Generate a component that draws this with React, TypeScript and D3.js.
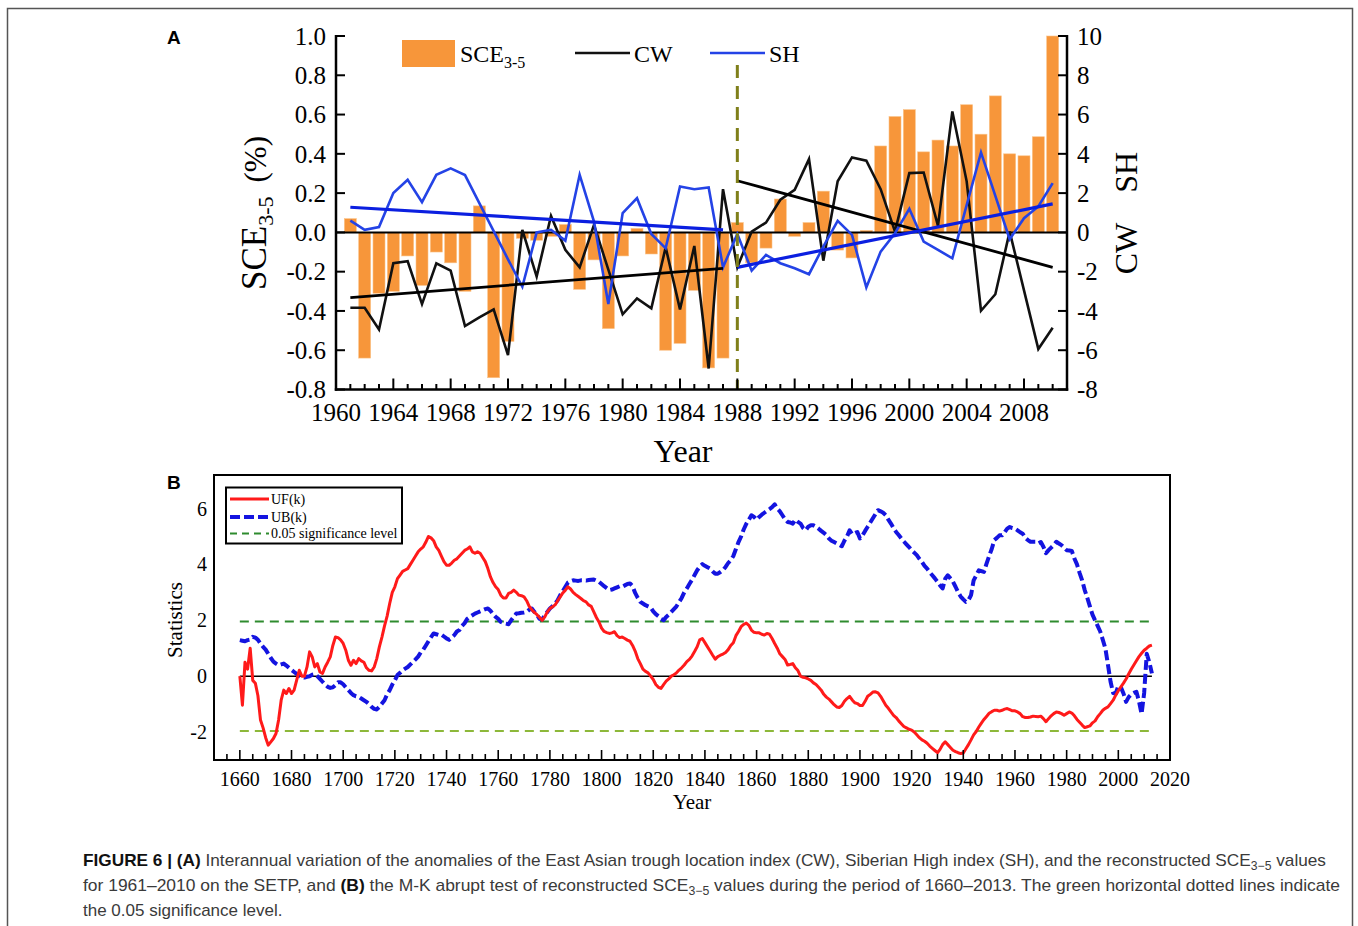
import React from 'react';
import * as d3 from 'd3';

// ---------- Panel A: 1961–2010 ----------
const sceYears = d3.range(1961, 2011);

// reconstructed SCE3-5 anomalies (%)
const sceValues = [
  0.07, -0.64, -0.31, -0.3, -0.12, -0.27, -0.1, -0.155, -0.3, 0.135,
  -0.74, -0.555, -0.03, -0.04, -0.02, 0.04, -0.29, -0.14, -0.49, -0.12,
  0.02, -0.11, -0.6, -0.565, -0.295, -0.69, -0.64, 0.05, -0.155, -0.08,
  0.17, -0.02, 0.05, 0.21, -0.09, -0.13, 0.01, 0.44, 0.59, 0.625,
  0.41, 0.47, 0.44, 0.65, 0.5, 0.695, 0.4, 0.39, 0.487, 1.0,
];

// East Asian trough location index
const cwValues = [
  -3.84, -3.84, -4.94, -1.57, -1.47, -3.65, -1.57, -1.95, -4.77, -4.33,
  -3.92, -6.25, 0.13, -2.25, 0.84, -0.89, -1.78, 0.38, -1.9, -4.17,
  -3.36, -3.87, -0.76, -3.92, -0.69, -6.93, 2.2, -1.78, 0.04, 0.5,
  1.66, 2.17, 3.73, -1.44, 2.6, 3.82, 3.65, 2.2, 0.04, 3.02,
  3.05, 0.33, 6.16, 2.6, -3.99, -3.15, 0.04, -2.95, -5.94, -4.86,
];

// Siberian High index
const shValues = [
  0.6, 0.13, 0.27, 2.0, 2.68, 1.54, 2.93, 3.26, 2.92, 1.49,
  0.06, -1.37, -2.77, 0.0, 0.13, -0.42, 2.93, 0.55, -3.65, 0.98,
  1.74, -0.08, -0.81, 2.34, 2.2, 2.29, -1.78, -0.08, -1.95, -1.15,
  -1.57, -1.83, -2.13, -0.72, 0.59, -0.13, -2.8, -0.98, -0.04, 1.2,
  -0.47, -0.89, -1.32, 1.39, 4.07, 1.86, -0.35, 0.72, 1.32, 2.51,
];

// linear trends before and after the 1988 shift: [year, value]
const cwTrendBefore: [number, number][] = [[1961, -3.32], [1987, -1.83]];
const cwTrendAfter: [number, number][] = [[1988, 2.63], [2010, -1.78]];
const shTrendBefore: [number, number][] = [[1961, 1.28], [1987, 0.13]];
const shTrendAfter: [number, number][] = [[1988, -1.78], [2010, 1.45]];
const shiftYear = 1988;

const sceTicks = [-0.8, -0.6, -0.4, -0.2, 0.0, 0.2, 0.4, 0.6, 0.8, 1.0];
const indexTicks = [-8, -6, -4, -2, 0, 2, 4, 6, 8, 10];
const yearTicksA = [1960, 1964, 1968, 1972, 1976, 1980, 1984, 1988, 1992, 1996, 2000, 2004, 2008];
const minorYearsA = d3.range(1960, 2011);

// ---------- Panel B: Mann-Kendall statistics, 1660–2013 ----------
const mkYears = d3.range(1660, 2014);

const ufValues = [
  0.0, -1.04, 0.5, 0.25, 1.0, -0.15, -0.25, -0.7, -1.57, -1.85,
  -2.2, -2.47, -2.35, -2.23, -2.05, -1.57, -0.86, -0.5, -0.62, -0.44,
  -0.62, -0.5, -0.14, 0.21, 0.0, 0.0, 0.33, 0.87, 0.69, 0.33,
  0.45, 0.15, 0.1, 0.33, 0.5, 0.69, 1.1, 1.4, 1.38, 1.3,
  1.17, 0.93, 0.57, 0.39, 0.57, 0.45, 0.63, 0.55, 0.5, 0.3,
  0.21, 0.19, 0.33, 0.63, 1.05, 1.4, 1.8, 2.15, 2.6, 3.0,
  3.2, 3.49, 3.62, 3.75, 3.8, 3.85, 4.0, 4.15, 4.3, 4.45,
  4.55, 4.63, 4.8, 5.0, 4.95, 4.85, 4.63, 4.5, 4.3, 4.1,
  3.97, 3.97, 4.05, 4.15, 4.2, 4.3, 4.4, 4.5, 4.55, 4.63,
  4.45, 4.4, 4.45, 4.4, 4.25, 4.1, 3.85, 3.55, 3.35, 3.2,
  3.1, 2.9, 2.8, 2.8, 2.96, 3.0, 3.08, 3.0, 2.9, 2.88,
  2.84, 2.7, 2.5, 2.38, 2.28, 2.2, 2.1, 2.0, 2.12, 2.3,
  2.42, 2.48, 2.55, 2.7, 2.84, 2.98, 3.08, 3.2, 3.12, 3.0,
  2.92, 2.85, 2.78, 2.7, 2.66, 2.55, 2.5, 2.3, 2.1, 1.94,
  1.72, 1.6, 1.56, 1.53, 1.55, 1.59, 1.45, 1.38, 1.4, 1.35,
  1.29, 1.25, 1.1, 0.9, 0.63, 0.45, 0.25, 0.17, 0.12, 0.0,
  -0.12, -0.3, -0.4, -0.44, -0.3, -0.18, -0.1, 0.0, 0.05, 0.12,
  0.22, 0.3, 0.4, 0.52, 0.6, 0.72, 0.88, 1.05, 1.3, 1.35,
  1.2, 1.05, 0.9, 0.75, 0.61, 0.7, 0.75, 0.79, 0.85, 0.95,
  1.1, 1.2, 1.45, 1.6, 1.77, 1.85, 1.9, 1.82, 1.65, 1.57,
  1.55, 1.55, 1.5, 1.47, 1.53, 1.5, 1.35, 1.17, 1.0, 0.8,
  0.7, 0.6, 0.4, 0.42, 0.45, 0.3, 0.2, 0.0, -0.04, -0.06,
  -0.1, -0.15, -0.24, -0.3, -0.4, -0.5, -0.65, -0.75, -0.82, -0.92,
  -1.02, -1.1, -1.12, -1.05, -0.9, -0.8, -0.72, -0.85, -0.95, -0.98,
  -1.05, -1.05, -0.9, -0.72, -0.65, -0.57, -0.56, -0.6, -0.72, -0.88,
  -1.04, -1.15, -1.28, -1.4, -1.48, -1.6, -1.7, -1.8, -1.85, -1.9,
  -1.93, -2.0, -2.1, -2.2, -2.28, -2.33, -2.4, -2.5, -2.58, -2.66,
  -2.74, -2.62, -2.45, -2.35, -2.45, -2.55, -2.65, -2.7, -2.74, -2.77,
  -2.75, -2.6, -2.45, -2.28, -2.1, -1.98, -1.82, -1.68, -1.55, -1.44,
  -1.33, -1.27, -1.22, -1.22, -1.25, -1.22, -1.18, -1.16, -1.2, -1.24,
  -1.24, -1.28, -1.34, -1.45, -1.48, -1.48, -1.46, -1.43, -1.44, -1.45,
  -1.43, -1.52, -1.63, -1.52, -1.42, -1.34, -1.28, -1.3, -1.34, -1.4,
  -1.34, -1.28, -1.32, -1.42, -1.55, -1.65, -1.75, -1.84, -1.81, -1.78,
  -1.67, -1.6, -1.45, -1.34, -1.22, -1.15, -1.1, -0.98, -0.86, -0.68,
  -0.52, -0.38, -0.25, -0.1, 0.08, 0.25, 0.4, 0.55, 0.7, 0.82,
  0.93, 1.0, 1.08, 1.11,
];

const ubValues = [
  1.29, 1.27, 1.25, 1.29, 1.31, 1.41, 1.38, 1.3, 1.17, 1.05,
  0.95, 0.8, 0.65, 0.52, 0.45, 0.39, 0.42, 0.45, 0.38, 0.3,
  0.22, 0.15, 0.08, 0.0, -0.03, -0.05, -0.02, 0.0, 0.05, 0.07,
  0.0, -0.1, -0.2, -0.3, -0.38, -0.42, -0.4, -0.32, -0.22, -0.22,
  -0.29, -0.4, -0.5, -0.6, -0.68, -0.72, -0.74, -0.8, -0.86, -0.92,
  -1.0, -1.1, -1.17, -1.19, -1.1, -0.98, -0.86, -0.65, -0.5, -0.3,
  -0.15, 0.04, 0.12, 0.21, 0.27, 0.33, 0.42, 0.51, 0.6, 0.7,
  0.85, 0.95, 1.1, 1.25, 1.4, 1.53, 1.5, 1.47, 1.49, 1.42,
  1.35, 1.3, 1.38, 1.47, 1.6, 1.65, 1.8, 1.9, 2.05, 2.12,
  2.18, 2.24, 2.28, 2.32, 2.36, 2.4, 2.42, 2.34, 2.22, 2.12,
  2.05, 1.94, 1.9, 1.88, 1.86, 2.0, 2.12, 2.24, 2.25, 2.27,
  2.28, 2.3, 2.38, 2.42, 2.3, 2.2, 2.05, 2.03, 2.18, 2.3,
  2.42, 2.5, 2.6, 2.72, 2.9, 3.05, 3.2, 3.35, 3.4, 3.43,
  3.42, 3.41, 3.43, 3.43, 3.42, 3.44, 3.45, 3.46, 3.42, 3.38,
  3.3, 3.22, 3.15, 3.08, 3.1, 3.14, 3.18, 3.22, 3.2, 3.25,
  3.3, 3.32, 3.22, 2.98, 2.8, 2.66, 2.6, 2.54, 2.5, 2.46,
  2.32, 2.22, 2.15, 2.05, 2.0, 2.12, 2.2, 2.3, 2.4, 2.5,
  2.65, 2.8, 3.0, 3.14, 3.3, 3.45, 3.62, 3.79, 3.92, 4.01,
  3.95, 3.9, 3.85, 3.75, 3.67, 3.67, 3.73, 3.8, 3.91, 4.05,
  4.15, 4.3, 4.55, 4.8, 5.0, 5.25, 5.45, 5.6, 5.76, 5.7,
  5.6, 5.7, 5.78, 5.85, 5.92, 5.98, 6.05, 6.15, 6.0, 5.9,
  5.76, 5.62, 5.52, 5.5, 5.46, 5.6, 5.52, 5.46, 5.3, 5.22,
  5.35, 5.4, 5.4, 5.35, 5.28, 5.2, 5.13, 5.05, 4.93, 4.85,
  4.8, 4.75, 4.7, 4.65, 4.85, 5.0, 5.22, 5.08, 5.12, 5.16,
  4.93, 5.04, 5.2, 5.35, 5.5, 5.65, 5.8, 5.94, 5.9, 5.85,
  5.76, 5.6, 5.46, 5.3, 5.16, 5.05, 4.93, 4.82, 4.72, 4.62,
  4.51, 4.42, 4.33, 4.2, 4.09, 3.95, 3.85, 3.72, 3.61, 3.5,
  3.38, 3.25, 3.14, 3.49, 3.61, 3.5, 3.38, 3.2, 3.0, 2.85,
  2.75, 2.66, 2.72, 2.9, 3.43, 3.6, 3.79, 3.76, 3.73, 4.03,
  4.3, 4.55, 4.87, 4.95, 5.04, 5.04, 5.15, 5.28, 5.34, 5.3,
  5.28, 5.22, 5.15, 5.1, 4.95, 4.87, 4.81, 4.81, 4.81, 4.75,
  4.8, 4.63, 4.4, 4.51, 4.6, 4.69, 4.81, 4.75, 4.69, 4.6,
  4.51, 4.5, 4.48, 4.21, 4.0, 3.7, 3.43, 3.08, 2.8, 2.5,
  2.2, 2.0, 1.8, 1.6, 1.3, 0.99, 0.4, -0.2, -0.6, -0.62,
  -0.35, -0.4, -0.62, -0.92, -0.75, -0.65, -0.6, -0.56, -0.9, -1.35,
  -0.6, 0.8, 0.5, 0.1,
];

const significanceLevel = 1.96;
const statTicks = [-2, 0, 2, 4, 6];
const yearTicksB = d3.range(1660, 2021, 20);
const minorYearsB = d3.range(1650, 2021, 5);

// ---------- styling ----------
const SERIF = '"Liberation Serif", "Times New Roman", serif';
const SANS = '"Liberation Sans", Arial, sans-serif';
const CAPTION_FONT = '"Liberation Sans Narrow", "Liberation Sans", Arial, sans-serif';
const ORANGE = '#F7963A';
const CW_COLOR = '#111111';
const SH_COLOR = '#2443E6';
const SH_TREND = '#0B1FE0';
const UF_COLOR = '#FF1A1A';
const UB_COLOR = '#1414E0';
const SIG_UP = '#2E8B2E';
const SIG_DOWN = '#8DB83A';

export default function App() {
  // Panel A scales
  const xA = d3.scaleLinear().domain([1960, 2011]).range([336, 1067]);
  const yA = d3.scaleLinear().domain([-0.8, 1.0]).range([389.5, 36]);
  const yIdx = d3.scaleLinear().domain([-8, 10]).range([389.5, 36]);
  const barW = 12;

  const idxLine = d3
    .line<[number, number]>()
    .x((d) => xA(d[0]))
    .y((d) => yIdx(d[1]));

  const cwPts = sceYears.map((yr, i) => [yr, cwValues[i]] as [number, number]);
  const shPts = sceYears.map((yr, i) => [yr, shValues[i]] as [number, number]);

  // Panel B scales
  const xB = d3.scaleLinear().domain([1650, 2020]).range([214, 1170]);
  const yB = d3.scaleLinear().domain([-3, 7.2]).range([760, 475]);
  const statLine = d3
    .line<[number, number]>()
    .x((d) => xB(d[0]))
    .y((d) => yB(d[1]));
  const ufPts = mkYears.map((yr, i) => [yr, ufValues[i]] as [number, number]);
  const ubPts = mkYears.map((yr, i) => [yr, ubValues[i]] as [number, number]);
  const mkStart = mkYears[0];
  const mkEnd = mkYears[mkYears.length - 1];

  const aLeft = xA(1960);
  const aRight = xA(2011);
  const aTop = yA(1.0);
  const aBottom = yA(-0.8);

  return (
    <svg
      width={1358}
      height={926}
      viewBox="0 0 1358 926"
      style={{ position: 'absolute', left: 0, top: 0, display: 'block', background: '#fff' }}
    >
      <rect x={0} y={0} width={1358} height={926} fill="#fff" />
      {/* outer frame */}
      <rect x={7.5} y={8.5} width={1345} height={930} fill="none" stroke="#555" strokeWidth={1.5} />

      {/* ================= Panel A ================= */}
      <text x={167} y={44} fontFamily={SANS} fontWeight="bold" fontSize={19} fill="#000">A</text>

      {/* bars */}
      <g>
        {sceYears.map((yr, i) => {
          const v = sceValues[i];
          const y0 = yA(0);
          const y1 = yA(v);
          return (
            <rect
              key={yr}
              x={xA(yr) - barW / 2}
              y={Math.min(y0, y1)}
              width={barW}
              height={Math.abs(y1 - y0)}
              fill={ORANGE}
              stroke="#FBC48A"
              strokeWidth={0.6}
            />
          );
        })}
      </g>

      {/* zero line */}
      <line x1={aLeft} x2={aRight} y1={yA(0)} y2={yA(0)} stroke="#000" strokeWidth={2} />

      {/* index series */}
      <path d={idxLine(cwPts) || ''} fill="none" stroke={CW_COLOR} strokeWidth={2.6} strokeLinejoin="miter" />
      <path d={idxLine(shPts) || ''} fill="none" stroke={SH_COLOR} strokeWidth={2.6} strokeLinejoin="miter" />

      {/* trend lines */}
      <path d={idxLine(cwTrendBefore) || ''} stroke="#000" strokeWidth={2.8} fill="none" />
      <path d={idxLine(cwTrendAfter) || ''} stroke="#000" strokeWidth={2.8} fill="none" />
      <path d={idxLine(shTrendBefore) || ''} stroke={SH_TREND} strokeWidth={3.2} fill="none" />
      <path d={idxLine(shTrendAfter) || ''} stroke={SH_TREND} strokeWidth={3.2} fill="none" />

      {/* abrupt-change marker */}
      <line
        x1={xA(shiftYear)}
        x2={xA(shiftYear)}
        y1={65}
        y2={aBottom}
        stroke="#7F7F1A"
        strokeWidth={3}
        strokeDasharray="13 8"
      />

      {/* axes */}
      <g stroke="#000" strokeWidth={2.5} fill="none">
        <line x1={aLeft} x2={aLeft} y1={aTop - 1} y2={aBottom + 1.2} />
        <line x1={aRight} x2={aRight} y1={aTop - 1} y2={aBottom + 1.2} />
        <line x1={aLeft - 1.2} x2={aRight + 1.2} y1={aBottom} y2={aBottom} />
      </g>
      <g stroke="#000" strokeWidth={2}>
        {sceTicks.map((t) => (
          <line key={'lt' + t} x1={aLeft} x2={aLeft + 9} y1={yA(t)} y2={yA(t)} />
        ))}
        {indexTicks.map((t) => (
          <line key={'rt' + t} x1={aRight} x2={aRight - 9} y1={yIdx(t)} y2={yIdx(t)} />
        ))}
        {minorYearsA.map((yr) => (
          <line
            key={'bt' + yr}
            x1={xA(yr)}
            x2={xA(yr)}
            y1={aBottom}
            y2={aBottom - (yearTicksA.includes(yr) ? 11 : 5.5)}
          />
        ))}
      </g>
      <g fontFamily={SERIF} fontSize={25} fill="#000">
        {sceTicks.map((t) => (
          <text key={'ll' + t} x={326} y={yA(t)} dy="0.35em" textAnchor="end">
            {t.toFixed(1)}
          </text>
        ))}
        {indexTicks.map((t) => (
          <text key={'rl' + t} x={1077} y={yIdx(t)} dy="0.35em" textAnchor="start">
            {String(t)}
          </text>
        ))}
        {yearTicksA.map((yr) => (
          <text key={'yl' + yr} x={xA(yr)} y={421} textAnchor="middle">
            {yr}
          </text>
        ))}
      </g>
      <text x={683} y={462} textAnchor="middle" fontFamily={SERIF} fontSize={32}>Year</text>

      {/* axis titles */}
      <text
        transform="translate(266,213) rotate(-90)"
        textAnchor="middle"
        fontFamily={SERIF}
        fontSize={35}
      >
        <tspan>SCE</tspan>
        <tspan fontSize={22} dy={7}>3-5</tspan>
        <tspan dy={-7} dx={14} fontSize={31}>(%)</tspan>
      </text>
      <text
        transform="translate(1137,213) rotate(-90)"
        textAnchor="middle"
        fontFamily={SERIF}
        fontSize={32}
      >
        <tspan>CW</tspan>
        <tspan dx={30}>SH</tspan>
      </text>

      {/* legend A */}
      <rect x={402} y={40} width={53} height={27} fill={ORANGE} />
      <text x={460} y={62} fontFamily={SERIF} fontSize={24}>
        <tspan>SCE</tspan>
        <tspan fontSize={16} dy={6}>3-5</tspan>
      </text>
      <line x1={575} x2={630} y1={53} y2={53} stroke={CW_COLOR} strokeWidth={2.6} />
      <text x={634} y={62} fontFamily={SERIF} fontSize={24}>CW</text>
      <line x1={710} x2={765} y1={53} y2={53} stroke={SH_COLOR} strokeWidth={2.6} />
      <text x={769} y={62} fontFamily={SERIF} fontSize={24}>SH</text>

      {/* ================= Panel B ================= */}
      <text x={167} y={489} fontFamily={SANS} fontWeight="bold" fontSize={19} fill="#000">B</text>

      {/* reference lines */}
      <line x1={xB(mkStart)} x2={xB(mkEnd)} y1={yB(0)} y2={yB(0)} stroke="#000" strokeWidth={1.6} />
      <line
        x1={xB(mkStart)}
        x2={xB(mkEnd)}
        y1={yB(significanceLevel)}
        y2={yB(significanceLevel)}
        stroke={SIG_UP}
        strokeWidth={2}
        strokeDasharray="9 6"
      />
      <line
        x1={xB(mkStart)}
        x2={xB(mkEnd)}
        y1={yB(-significanceLevel)}
        y2={yB(-significanceLevel)}
        stroke={SIG_DOWN}
        strokeWidth={2}
        strokeDasharray="9 6"
      />

      {/* UB and UF curves */}
      <path
        d={statLine(ubPts) || ''}
        fill="none"
        stroke={UB_COLOR}
        strokeWidth={4}
        strokeDasharray="10 4"
        strokeLinejoin="round"
      />
      <path d={statLine(ufPts) || ''} fill="none" stroke={UF_COLOR} strokeWidth={3} strokeLinejoin="round" />

      {/* frame and ticks */}
      <rect x={214} y={475} width={956} height={285} fill="none" stroke="#000" strokeWidth={2} />
      <g stroke="#000" strokeWidth={1.6}>
        {minorYearsB.map((yr) => (
          <line
            key={'bx' + yr}
            x1={xB(yr)}
            x2={xB(yr)}
            y1={760}
            y2={760 - ((yr - 1660) % 20 === 0 ? 10 : 6)}
          />
        ))}
      </g>
      <g fontFamily={SERIF} fontSize={20} fill="#000">
        {yearTicksB.map((yr) => (
          <text key={'bl' + yr} x={xB(yr)} y={786} textAnchor="middle">
            {yr}
          </text>
        ))}
        {statTicks.map((t) => (
          <text key={'sl' + t} x={207} y={yB(t)} dy="0.35em" textAnchor="end">
            {String(t)}
          </text>
        ))}
      </g>
      <text x={692} y={809} textAnchor="middle" fontFamily={SERIF} fontSize={21}>Year</text>
      <text
        transform="translate(182,620) rotate(-90)"
        textAnchor="middle"
        fontFamily={SERIF}
        fontSize={21}
      >
        Statistics
      </text>

      {/* legend B */}
      <rect x={226} y={487.5} width={176} height={56} fill="#fff" stroke="#000" strokeWidth={2} />
      <line x1={230} x2={269} y1={499} y2={499} stroke={UF_COLOR} strokeWidth={3} />
      <line x1={230} x2={269} y1={517} y2={517} stroke={UB_COLOR} strokeWidth={4} strokeDasharray="10 4" />
      <line x1={230} x2={269} y1={533.5} y2={533.5} stroke={SIG_UP} strokeWidth={2} strokeDasharray="7 5" />
      <g fontFamily={SERIF} fontSize={14} fill="#000">
        <text x={271} y={503.5}>UF(k)</text>
        <text x={271} y={521.5}>UB(k)</text>
        <text x={271} y={538}>0.05 significance level</text>
      </g>

      {/* ================= Caption ================= */}
      <g fontFamily={CAPTION_FONT} fontSize={17} fill="#3a3a3a">
        <text x={83} y={866} textLength={1243} lengthAdjust="spacingAndGlyphs">
          <tspan fontWeight="bold" fill="#111">FIGURE 6 | (A)</tspan>
          <tspan> Interannual variation of the anomalies of the East Asian trough location index (CW), Siberian High index (SH), and the reconstructed SCE</tspan>
          <tspan fontSize={12} dy={4}>3−5</tspan>
          <tspan dy={-4}> values</tspan>
        </text>
        <text x={83} y={891} textLength={1257} lengthAdjust="spacingAndGlyphs">
          <tspan>for 1961–2010 on the SETP, and </tspan>
          <tspan fontWeight="bold" fill="#111">(B)</tspan>
          <tspan> the M-K abrupt test of reconstructed SCE</tspan>
          <tspan fontSize={12} dy={4}>3−5</tspan>
          <tspan dy={-4}> values during the period of 1660–2013. The green horizontal dotted lines indicate</tspan>
        </text>
        <text x={83} y={916}>the 0.05 significance level.</text>
      </g>
    </svg>
  );
}
